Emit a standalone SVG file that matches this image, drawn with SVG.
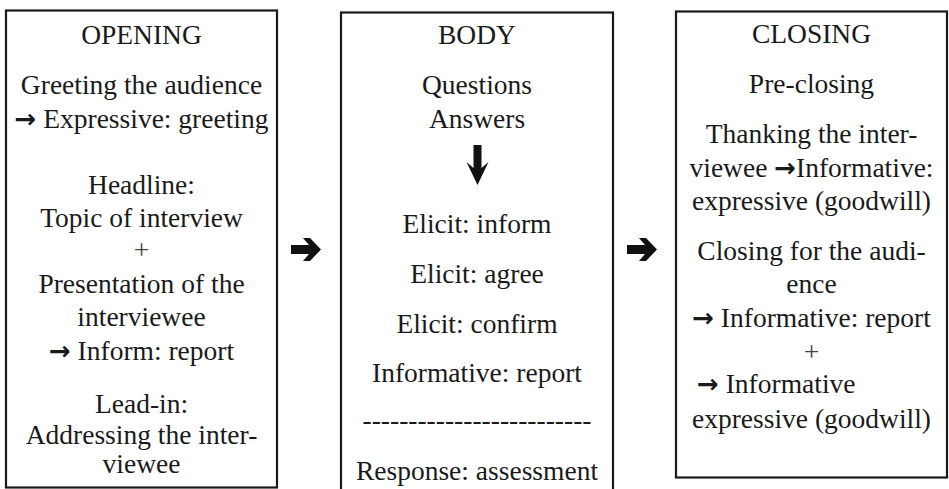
<svg xmlns="http://www.w3.org/2000/svg" width="949" height="489" viewBox="0 0 949 489">
<style>
.box{fill:#fff;stroke:#1a1a1a;stroke-width:2.2}
.t{font-family:'Liberation Serif','DejaVu Serif',serif;font-size:27.5px;fill:#1a1a1a;text-anchor:middle}
.a{font-family:'DejaVu Sans',sans-serif;font-size:26px;font-weight:bold}
.plus{fill:#444}
.arr{fill:#111}
</style>
<defs>
<path id="rarrow" d="M291,245 H309 L303,238 H310 L321,249.5 L310,261 H303 L309,254 H291 Z"/>
</defs>
<rect width="949" height="489" fill="#fff"/>
<g id="opening" class="t">
<rect class="box" x="6" y="10.5" width="271" height="477"/>
<text x="141.5" y="44">OPENING</text>
<text x="141.5" y="94">Greeting the audience</text>
<text x="141.5" y="128"><tspan class="a">→</tspan> Expressive: greeting</text>
<text x="141.5" y="194">Headline:</text>
<text x="141.5" y="227">Topic of interview</text>
<text class="plus" x="141.5" y="259">+</text>
<text x="141.5" y="293">Presentation of the</text>
<text x="141.5" y="326">interviewee</text>
<text x="141.5" y="360"><tspan class="a">→</tspan> Inform: report</text>
<text x="141.5" y="413">Lead-in:</text>
<text x="141.5" y="444">Addressing the inter-</text>
<text x="141.5" y="473">viewee</text>
</g>
<g id="body" class="t">
<rect class="box" x="341" y="12.5" width="272" height="490"/>
<text x="477" y="44">BODY</text>
<text x="477" y="94">Questions</text>
<text x="477" y="128">Answers</text>
<path class="arr" d="M473.5,145 H481.5 V168 L488.5,162 L477.5,185 L466.5,162 L473.5,168 Z"/>
<text x="477" y="233">Elicit: inform</text>
<text x="477" y="283">Elicit: agree</text>
<text x="477" y="333">Elicit: confirm</text>
<text x="477" y="382">Informative: report</text>
<text x="477" y="429">-------------------------</text>
<text x="477" y="480">Response: assessment</text>
</g>
<g id="closing" class="t">
<rect class="box" x="676" y="11.5" width="271" height="466"/>
<text x="811.5" y="43">CLOSING</text>
<text x="811.5" y="93">Pre-closing</text>
<text x="811.5" y="143">Thanking the inter-</text>
<text x="811.5" y="177">viewee <tspan class="a">→</tspan>Informative:</text>
<text x="811.5" y="210">expressive (goodwill)</text>
<text x="811.5" y="260">Closing for the audi-</text>
<text x="811.5" y="293">ence</text>
<text x="811.5" y="327"><tspan class="a">→</tspan> Informative: report</text>
<text class="plus" x="811.5" y="361">+</text>
<text x="697" y="393" style="text-anchor:start"><tspan class="a">→</tspan> Informative</text>
<text x="811.5" y="428">expressive (goodwill)</text>
</g>
<g id="connectors">
<use href="#rarrow" class="arr"/>
<use href="#rarrow" class="arr" transform="translate(336,0)"/>
</g>
</svg>
